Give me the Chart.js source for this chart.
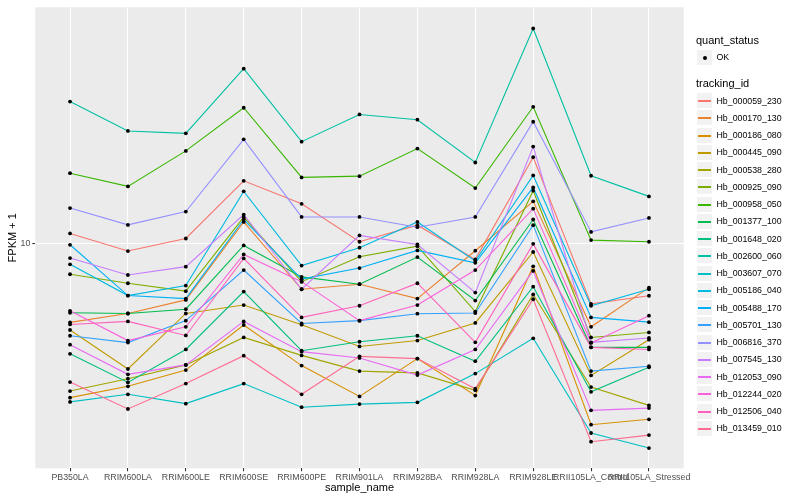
<!DOCTYPE html>
<html>
<head>
<meta charset="utf-8">
<title>FPKM + 1 by sample_name</title>
<script src="https://cdn.jsdelivr.net/npm/chart.js@4.4.1/dist/chart.umd.min.js"></script>
<style>
  html, body { margin: 0; padding: 0; background: #fff; }
  #wrap { position: relative; width: 800px; height: 500px; font-family: "Liberation Sans", Arial, sans-serif; }
  #chart { position: absolute; left: 0; top: 0; }
  .legend-title { position: absolute; left: 696px; font-size: 11px; line-height: 13px; color: #000; white-space: nowrap; }
  .key { position: absolute; left: 696px; width: 17px; height: 17px; box-sizing: border-box; background: #F2F2F2; border: 1px solid #fff; }
  .key .swatch { position: absolute; left: 1px; right: 1px; top: 6.5px; height: 2px; }
  .key .dot { position: absolute; left: 5.5px; top: 5.5px; width: 4px; height: 4px; border-radius: 50%; background: #000; }
  .label { position: absolute; left: 716.5px; font-size: 8.8px; line-height: 10px; color: #000; white-space: nowrap; }
</style>
</head>
<body>
<div id="wrap">
  <canvas id="chart" width="800" height="500"></canvas>
</div>
<script>
const samples = [
  'PB350LA', 'RRIM600LA', 'RRIM600LE', 'RRIM600SE', 'RRIM600PE', 'RRIM901LA',
  'RRIM928BA', 'RRIM928LA', 'RRIM928LE', 'RRII105LA_Control', 'RRII105LA_Stressed',
];

const trackingIds = [
  'Hb_000059_230', 'Hb_000170_130', 'Hb_000186_080', 'Hb_000445_090', 'Hb_000538_280',
  'Hb_000925_090', 'Hb_000958_050', 'Hb_001377_100', 'Hb_001648_020', 'Hb_002600_060',
  'Hb_003607_070', 'Hb_005186_040', 'Hb_005488_170', 'Hb_005701_130', 'Hb_006816_370',
  'Hb_007545_130', 'Hb_012053_090', 'Hb_012244_020', 'Hb_012506_040', 'Hb_013459_010',
];

// ggplot default hue palette, 20 levels
const seriesColors = [
  '#F8766D', '#EA8331', '#D89000', '#C09B00', '#A3A500',
  '#7CAE00', '#39B600', '#00BB4E', '#00BF7D', '#00C1A3',
  '#00BFC4', '#00BAE0', '#00B0F6', '#35A2FF', '#9590FF',
  '#C77CFF', '#E76BF3', '#FA62DB', '#FF62BC', '#FF6C91',
];

const quantStatus = ['OK'];
const yTicks = [10];

// FPKM + 1, one value per sample
const hb_000059_230 = [10.66, 9.49, 10.31, 15.10, 12.97, 10.09, 11.26, 8.98, 17.65, 6.69, 7.06];
const hb_000170_130 = [5.92, 6.28, 6.87, 11.50, 7.37, 7.62, 6.93, 9.51, 13.18, 5.75, 7.45];
const hb_000186_080 = [3.60, 3.88, 4.32, 5.82, 4.45, 3.63, 4.66, 3.65, 8.58, 3.01, 3.12];
const hb_000445_090 = [5.63, 4.35, 6.28, 6.64, 5.83, 5.05, 5.25, 5.90, 9.43, 4.17, 5.28];
const hb_000538_280 = [3.76, 4.08, 4.47, 5.36, 4.76, 4.29, 4.24, 3.78, 7.12, 3.86, 3.42];
const hb_000925_090 = [8.14, 7.67, 7.28, 11.87, 7.75, 9.14, 9.80, 6.36, 14.14, 5.36, 5.54];
const hb_000958_050 = [15.88, 14.55, 18.40, 24.47, 15.44, 15.57, 18.68, 14.39, 24.63, 10.20, 10.09];
const hb_001377_100 = [6.31, 6.28, 6.46, 9.85, 8.00, 7.62, 9.12, 6.84, 11.69, 5.02, 5.02];
const hb_001648_020 = [4.81, 3.98, 4.95, 7.26, 4.91, 5.21, 5.42, 4.58, 7.50, 3.74, 4.40];
const hb_002600_060 = [25.50, 20.99, 20.66, 31.69, 19.56, 23.41, 22.61, 17.04, 41.33, 15.61, 13.62];
const hb_003607_070 = [3.50, 3.68, 3.46, 3.95, 3.38, 3.45, 3.49, 4.22, 5.33, 2.85, 2.58];
const hb_005186_040 = [8.69, 7.07, 7.55, 14.08, 8.62, 9.70, 11.50, 8.88, 15.64, 6.61, 7.37];
const hb_005488_170 = [9.89, 7.07, 6.93, 11.69, 7.88, 8.48, 9.53, 8.78, 14.45, 6.12, 5.93];
const hb_005701_130 = [5.42, 5.18, 5.99, 8.37, 5.88, 5.99, 6.27, 6.30, 11.26, 4.29, 4.43];
const hb_006816_370 = [12.61, 11.28, 12.32, 19.86, 11.89, 11.89, 11.11, 11.89, 22.31, 10.77, 11.81];
const hb_007545_130 = [9.06, 8.10, 8.56, 12.08, 7.37, 10.52, 9.91, 7.21, 18.93, 5.19, 5.34];
const hb_012053_090 = [5.11, 4.20, 4.47, 5.96, 4.88, 4.68, 4.18, 4.95, 8.32, 3.31, 3.36];
const hb_012244_020 = [6.39, 5.25, 5.75, 9.28, 7.75, 5.99, 6.64, 8.37, 12.56, 5.17, 6.19];
const hb_012506_040 = [5.84, 5.96, 5.43, 9.04, 6.12, 6.61, 7.67, 5.19, 9.95, 5.02, 4.95];
const hb_013459_010 = [3.99, 3.34, 3.95, 4.75, 3.68, 4.73, 4.66, 3.82, 6.90, 2.69, 2.81];

const seriesValues = [
  hb_000059_230, hb_000170_130, hb_000186_080, hb_000445_090, hb_000538_280,
  hb_000925_090, hb_000958_050, hb_001377_100, hb_001648_020, hb_002600_060,
  hb_003607_070, hb_005186_040, hb_005488_170, hb_005701_130, hb_006816_370,
  hb_007545_130, hb_012053_090, hb_012244_020, hb_012506_040, hb_013459_010,
];

const Y_MIN = 2.2564;
const Y_MAX = 47.55;

const GRID = {
  color: '#FFFFFF',
  lineWidth: 1.07,
  tickColor: '#333333',
  tickLength: 3,
  tickWidth: 1.07,
};

Chart.defaults.font.family = '"Liberation Sans", Arial, sans-serif';

const panelBackground = {
  id: 'panelBackground',
  beforeDraw(chart) {
    const { ctx, chartArea } = chart;
    ctx.save();
    ctx.fillStyle = '#EBEBEB';
    ctx.fillRect(chartArea.left, chartArea.top,
      chartArea.right - chartArea.left, chartArea.bottom - chartArea.top);
    ctx.restore();
  },
};

function toPoints(values) {
  return values.map((v, i) => ({ x: i, y: v }));
}

function buildDatasets() {
  const n = seriesValues.length;
  const lines = seriesValues.map((values, i) => ({
    label: trackingIds[i],
    data: toPoints(values),
    borderColor: seriesColors[i],
    backgroundColor: seriesColors[i],
    borderWidth: 1.1,
    pointRadius: 0,
    tension: 0,
    fill: false,
    order: n - i, // later levels on top, like ggplot
  }));

  // every point in black, drawn above all lines
  const allPoints = [];
  seriesValues.forEach((values) => allPoints.push(...toPoints(values)));
  lines.push({
    label: quantStatus[0],
    data: allPoints,
    showLine: false,
    pointRadius: 1.9,
    pointBackgroundColor: '#000000',
    pointBorderWidth: 0,
    order: -1,
  });
  return lines;
}

function createChart() {
  const ctx = document.getElementById('chart').getContext('2d');
  new Chart(ctx, {
    type: 'line',
    data: { datasets: buildDatasets() },
    options: {
      responsive: false,
      animation: false,
      events: [],
      layout: { padding: { left: 0, top: 5, right: 116.3, bottom: 0 } },
      plugins: { legend: { display: false }, tooltip: { enabled: false } },
      scales: {
        x: {
          type: 'linear',
          min: -0.6,
          max: samples.length - 1 + 0.6,
          bounds: 'data',
          afterBuildTicks: (scale) => { scale.ticks = samples.map((_, i) => ({ value: i })); },
          afterFit: (scale) => { scale.height = 31.7; },
          grid: GRID,
          border: { display: false },
          ticks: {
            autoSkip: false,
            maxRotation: 0,
            minRotation: 0,
            padding: 1,
            color: '#4D4D4D',
            font: { size: 8.8 },
            callback: (value) => samples[value],
          },
          title: {
            display: true,
            text: 'sample_name',
            color: '#000000',
            font: { size: 11 },
            padding: { top: 0, bottom: 5.4 },
          },
        },
        y: {
          type: 'logarithmic',
          min: Y_MIN,
          max: Y_MAX,
          bounds: 'data',
          afterBuildTicks: (scale) => { scale.ticks = yTicks.map((v) => ({ value: v })); },
          afterFit: (scale) => { scale.width = 35.3; },
          grid: GRID,
          border: { display: false },
          ticks: {
            padding: 2,
            color: '#4D4D4D',
            font: { size: 8.8 },
            callback: (value) => String(value),
          },
          title: {
            display: true,
            text: 'FPKM + 1',
            color: '#000000',
            font: { size: 11 },
            padding: { top: 6, bottom: 0 },
          },
        },
      },
    },
    plugins: [panelBackground],
  });
}

function addDiv(parent, className, top, text) {
  const el = document.createElement('div');
  el.className = className;
  el.style.top = top + 'px';
  if (text !== undefined) el.textContent = text;
  parent.appendChild(el);
  return el;
}

function buildLegend() {
  const wrap = document.getElementById('wrap');

  addDiv(wrap, 'legend-title', 40.7 - 6.5, 'quant_status');
  const okKey = addDiv(wrap, 'key', Math.round(57 - 8.5));
  okKey.appendChild(Object.assign(document.createElement('div'), { className: 'dot' }));
  addDiv(wrap, 'label', 57 - 5, quantStatus[0]);

  addDiv(wrap, 'legend-title', 83.3 - 6.5, 'tracking_id');
  trackingIds.forEach((id, i) => {
    const center = 100.7 + i * 17.25;
    const key = addDiv(wrap, 'key', Math.round(center - 8.5));
    const swatch = document.createElement('div');
    swatch.className = 'swatch';
    swatch.style.backgroundColor = seriesColors[i];
    key.appendChild(swatch);
    addDiv(wrap, 'label', center - 5, id);
  });
}

createChart();
buildLegend();
</script>
</body>
</html>
